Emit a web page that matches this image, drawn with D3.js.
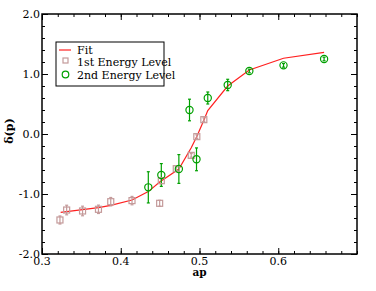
<!DOCTYPE html>
<html><head><meta charset="utf-8">
<script src="https://cdn.jsdelivr.net/npm/d3@7"></script>
<style>body{margin:0;background:#fff}svg{display:block}svg text{font-family:"DejaVu Serif","Liberation Serif",serif}</style>
</head><body><svg id="c" width="376" height="291"></svg>
<script>
const xTicks = [0.3, 0.4, 0.5, 0.6];
const yTicks = [-2.0, -1.0, 0.0, 1.0, 2.0];

const lvl1X = [0.3228, 0.3313, 0.3515, 0.3717, 0.3873, 0.4143, 0.4494, 0.4515, 0.4705, 0.4895, 0.4966, 0.5055];
const lvl1Y = [-1.433, -1.267, -1.283, -1.255, -1.128, -1.11, -1.155, -0.778, -0.578, -0.356, -0.044, 0.239];
const lvl1E = [0.067, 0.08, 0.08, 0.07, 0.07, 0.07, 0.05, 0.05, 0.03, 0.03, 0.03, 0.03];

const lvl2X = [0.435, 0.4515, 0.4738, 0.4873, 0.4962, 0.5105, 0.5358, 0.5633, 0.6067, 0.6582];
const lvl2Y = [-0.889, -0.683, -0.583, 0.4, -0.422, 0.6, 0.817, 1.05, 1.144, 1.25];
const lvl2E = [0.26, 0.19, 0.24, 0.18, 0.19, 0.1, 0.095, 0.03, 0.03, 0.03];

const fitX = [0.3237, 0.3515, 0.3717, 0.3873, 0.4143, 0.435, 0.4494, 0.4738, 0.4895, 0.4966, 0.5055, 0.5105, 0.5358, 0.5633, 0.6067, 0.6582];
const fitY = [-1.305, -1.26, -1.228, -1.19, -1.10, -0.96, -0.80, -0.583, -0.23, -0.04, 0.23, 0.39, 0.80, 1.067, 1.262, 1.361];

const svg = d3.select("#c");
const L = 42, T = 14, R = 357, B = 254;
const x = d3.scaleLinear().domain([0.3, 0.7]).range([L, R]);
const y = d3.scaleLinear().domain([-2, 2]).range([B, T]);

const minorX = d3.range(0.3, 0.7001, 0.02);
const minorY = d3.range(-2, 2.001, 0.2);

function axisG(axisFn, scale, transform, vals, size) {
  const g = svg.append("g").attr("transform", transform)
    .call(axisFn(scale).tickValues(vals).tickSize(size).tickFormat(""));
  g.select(".domain").remove();
  g.selectAll("line").attr("stroke", "#000").attr("stroke-width", 1);
  return g;
}
axisG(d3.axisBottom, x, `translate(0,${B})`, minorX, -3);
axisG(d3.axisBottom, x, `translate(0,${B})`, xTicks, -6);
axisG(d3.axisTop, x, `translate(0,${T})`, minorX, -3);
axisG(d3.axisTop, x, `translate(0,${T})`, xTicks, -6);
axisG(d3.axisLeft, y, `translate(${L},0)`, minorY, -3);
axisG(d3.axisLeft, y, `translate(${L},0)`, yTicks, -6);
axisG(d3.axisRight, y, `translate(${R},0)`, minorY, -3);
axisG(d3.axisRight, y, `translate(${R},0)`, yTicks, -6);

svg.append("rect").attr("x", L).attr("y", T).attr("width", R - L).attr("height", B - T)
  .attr("fill", "none").attr("stroke", "#000").attr("stroke-width", 1.5);

svg.append("g").selectAll("text").data(xTicks).join("text")
  .attr("x", d => x(d)).attr("y", 265).attr("text-anchor", "middle")
  .attr("font-size", 11).text(d => d.toFixed(1));
svg.append("g").selectAll("text").data(yTicks).join("text")
  .attr("x", 40).attr("y", d => y(d) + 4).attr("text-anchor", "end")
  .attr("font-size", 11).text(d => d.toFixed(1));

svg.append("text").attr("x", x(0.5)).attr("y", 276).attr("text-anchor", "middle")
  .attr("font-size", 10.5).attr("font-weight", "bold").text("ap");
svg.append("text").attr("transform", `translate(13,${y(0.05)}) rotate(-90)`).attr("text-anchor", "middle")
  .attr("font-size", 11).attr("font-weight", "bold").text("δ(p)");

const line = d3.line().x((d, i) => x(fitX[i])).y(d => y(d));
svg.append("path").datum(fitY).attr("d", line).attr("fill", "none").attr("stroke", "#ff2020").attr("stroke-width", 1.2);

const c1 = "#c49a9a", c2 = "#00a000";
function errBars(X, Y, E, col) {
  const g = svg.append("g").attr("stroke", col).attr("stroke-width", 1.2);
  X.forEach((xv, i) => {
    g.append("line").attr("x1", x(xv)).attr("x2", x(xv)).attr("y1", y(Y[i] - E[i])).attr("y2", y(Y[i] + E[i]));
    [Y[i] - E[i], Y[i] + E[i]].forEach(v => g.append("line").attr("x1", x(xv) - 1.5).attr("x2", x(xv) + 1.5).attr("y1", y(v)).attr("y2", y(v)));
  });
}
errBars(lvl1X, lvl1Y, lvl1E, c1);
errBars(lvl2X, lvl2Y, lvl2E, c2);

svg.append("g").selectAll("rect").data(lvl1Y).join("rect")
  .attr("x", (d, i) => x(lvl1X[i]) - 3).attr("y", d => y(d) - 3).attr("width", 6).attr("height", 6)
  .attr("fill", "none").attr("stroke", c1).attr("stroke-width", 1.2);
svg.append("g").selectAll("circle").data(lvl2Y).join("circle")
  .attr("cx", (d, i) => x(lvl2X[i])).attr("cy", d => y(d)).attr("r", 3.6)
  .attr("fill", "none").attr("stroke", c2).attr("stroke-width", 1.2);

const lg = svg.append("g");
lg.append("rect").attr("x", 56).attr("y", 42).attr("width", 108).attr("height", 44)
  .attr("fill", "#fff").attr("stroke", "#000").attr("stroke-width", 1);
lg.append("line").attr("x1", 59).attr("x2", 71).attr("y1", 50).attr("y2", 50).attr("stroke", "#ff2020").attr("stroke-width", 1.2);
lg.append("rect").attr("x", 63).attr("y", 58).attr("width", 5).attr("height", 5).attr("fill", "none").attr("stroke", c1).attr("stroke-width", 1.2);
lg.append("circle").attr("cx", 65.5).attr("cy", 74.5).attr("r", 3.3).attr("fill", "none").attr("stroke", c2).attr("stroke-width", 1.2);
const labels = ["Fit", "1st Energy Level", "2nd Energy Level"];
lg.selectAll("text.l").data(labels).join("text").attr("class", "l")
  .attr("x", 77).attr("y", (d, i) => 54 + i * 12.3).attr("font-size", 11).text(d => d);
</script></body></html>
